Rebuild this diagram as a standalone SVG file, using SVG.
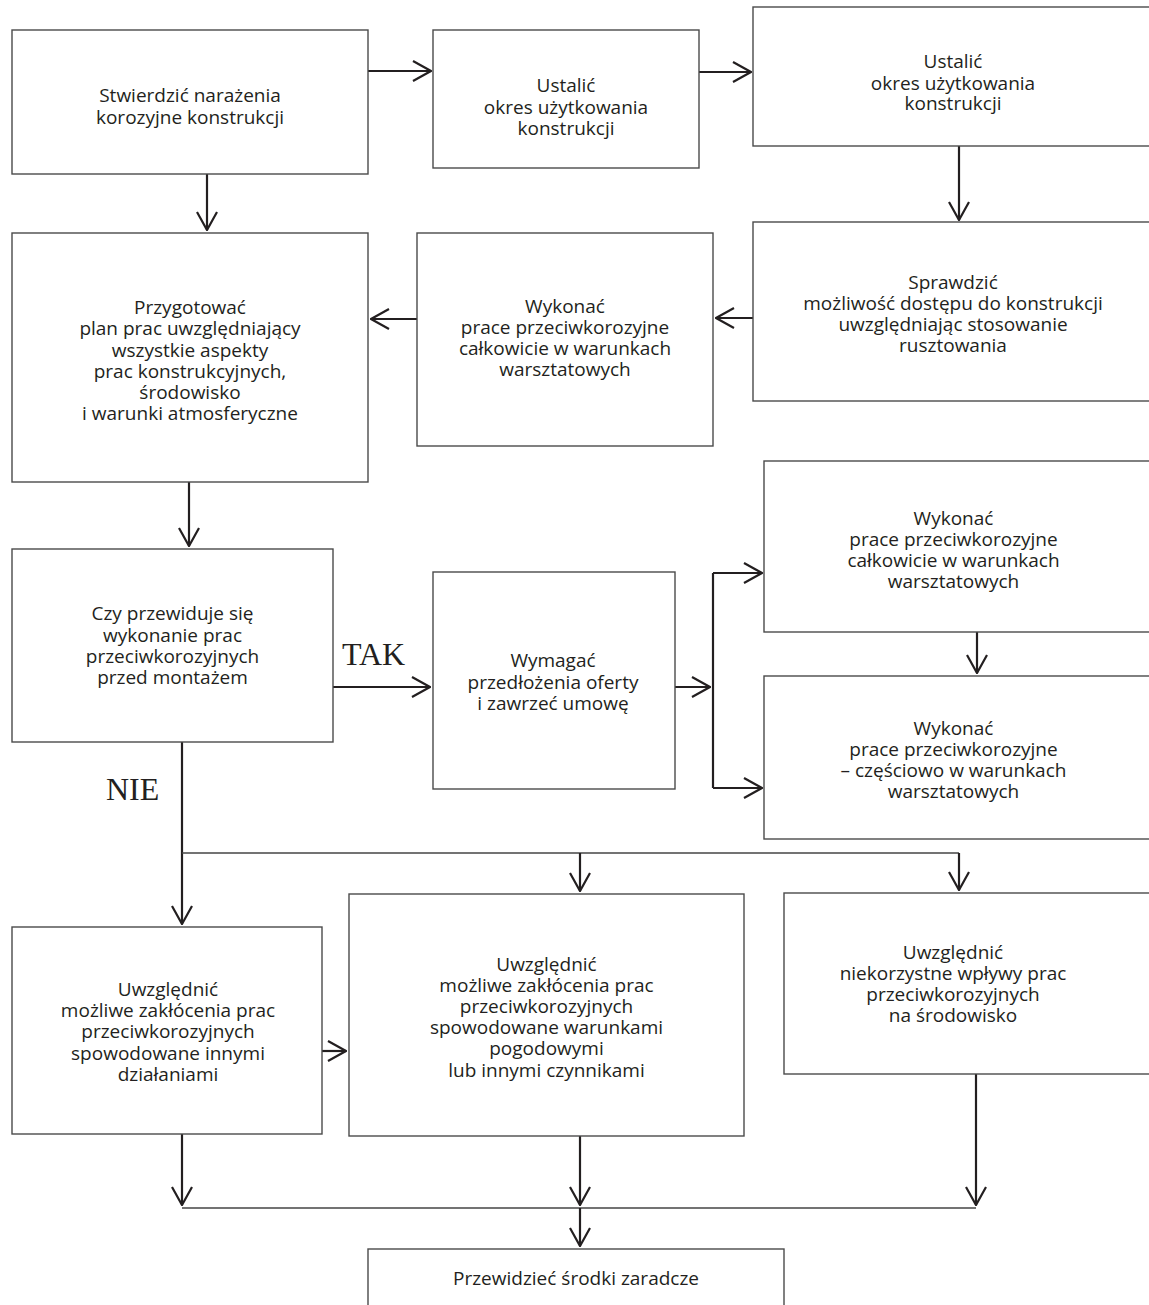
<svg xmlns="http://www.w3.org/2000/svg" width="1149" height="1305" viewBox="0 0 1149 1305">
<style>
.box{fill:#fff;stroke:#4a4a4a;stroke-width:1.4}
.t{font-family:"Open Sans","Noto Sans",sans-serif;font-size:19px;fill:#231f20;text-anchor:middle}
.lbl{font-family:"Liberation Serif","Times New Roman",serif;font-size:32px;fill:#231f20}
.c{fill:none;stroke:#231f20;stroke-width:2.2}
.c2{fill:none;stroke:#444;stroke-width:1.6}
</style>
<defs>
<marker id="ah" viewBox="0 0 20 22" refX="19" refY="11" markerWidth="20" markerHeight="22" markerUnits="userSpaceOnUse" orient="auto">
<path d="M1,1 L19,11 L1,21" fill="none" stroke="#231f20" stroke-width="2.2"/>
</marker>
</defs>
<rect width="1149" height="1305" fill="#fff"/>
<g id="connectors">
<path class="c" d="M368,71 H431" marker-end="url(#ah)"/>
<path class="c" d="M699,72 H751" marker-end="url(#ah)"/>
<path class="c" d="M959,146 V220" marker-end="url(#ah)"/>
<path class="c" d="M753,318 H716" marker-end="url(#ah)"/>
<path class="c" d="M417,319 H371" marker-end="url(#ah)"/>
<path class="c" d="M207,174 V230" marker-end="url(#ah)"/>
<path class="c" d="M189,482 V546" marker-end="url(#ah)"/>
<path class="c" d="M333,687 H430" marker-end="url(#ah)"/>
<path class="c" d="M675,687 H710" marker-end="url(#ah)"/>
<path class="c" d="M713,573 V788"/>
<path class="c" d="M713,573 H762" marker-end="url(#ah)"/>
<path class="c" d="M713,788 H762" marker-end="url(#ah)"/>
<path class="c" d="M977,632 V673" marker-end="url(#ah)"/>
<path class="c" d="M182,742 V924" marker-end="url(#ah)"/>
<path class="c2" d="M182,853 H959"/>
<path class="c" d="M580,853 V891" marker-end="url(#ah)"/>
<path class="c" d="M959,853 V890" marker-end="url(#ah)"/>
<path class="c" d="M322,1051 H346" marker-end="url(#ah)"/>
<path class="c" d="M182,1134 V1205" marker-end="url(#ah)"/>
<path class="c" d="M580,1136 V1205" marker-end="url(#ah)"/>
<path class="c" d="M976,1074 V1205" marker-end="url(#ah)"/>
<path class="c2" d="M182,1208 H976"/>
<path class="c" d="M580,1208 V1246" marker-end="url(#ah)"/>
</g>
<g id="labels">
<text class="lbl" x="342" y="665">TAK</text>
<text class="lbl" x="106" y="800">NIE</text>
</g>
<g id="n1"><rect class="box" x="12" y="30" width="356" height="144"/>
<text class="t" x="190" y="102">Stwierdzić narażenia</text>
<text class="t" x="190" y="124">korozyjne konstrukcji</text></g>
<g id="n2"><rect class="box" x="433" y="30" width="266" height="138"/>
<text class="t" x="566" y="92">Ustalić</text>
<text class="t" x="566" y="113.5">okres użytkowania</text>
<text class="t" x="566" y="135">konstrukcji</text></g>
<g id="n3"><rect class="box" x="753" y="7" width="402" height="139"/>
<text class="t" x="953" y="68">Ustalić</text>
<text class="t" x="953" y="89.5">okres użytkowania</text>
<text class="t" x="953" y="110">konstrukcji</text></g>
<g id="n4"><rect class="box" x="753" y="222" width="402" height="179"/>
<text class="t" x="953" y="288.5">Sprawdzić</text>
<text class="t" x="953" y="310">możliwość dostępu do konstrukcji</text>
<text class="t" x="953" y="331">uwzględniając stosowanie</text>
<text class="t" x="953" y="352">rusztowania</text></g>
<g id="n5"><rect class="box" x="417" y="233" width="296" height="213"/>
<text class="t" x="565" y="313">Wykonać</text>
<text class="t" x="565" y="334">prace przeciwkorozyjne</text>
<text class="t" x="565" y="355">całkowicie w warunkach</text>
<text class="t" x="565" y="376">warsztatowych</text></g>
<g id="n6"><rect class="box" x="12" y="233" width="356" height="249"/>
<text class="t" x="190" y="314">Przygotować</text>
<text class="t" x="190" y="335">plan prac uwzględniający</text>
<text class="t" x="190" y="356.5">wszystkie aspekty</text>
<text class="t" x="190" y="377.5">prac konstrukcyjnych,</text>
<text class="t" x="190" y="399">środowisko</text>
<text class="t" x="190" y="420">i warunki atmosferyczne</text></g>
<g id="n7"><rect class="box" x="12" y="549" width="321" height="193"/>
<text class="t" x="172.5" y="620">Czy przewiduje się</text>
<text class="t" x="172.5" y="641.5">wykonanie prac</text>
<text class="t" x="172.5" y="662.5">przeciwkorozyjnych</text>
<text class="t" x="172.5" y="683.5">przed montażem</text></g>
<g id="n8"><rect class="box" x="433" y="572" width="242" height="217"/>
<text class="t" x="553" y="667">Wymagać</text>
<text class="t" x="553" y="688.5">przedłożenia oferty</text>
<text class="t" x="553" y="710">i zawrzeć umowę</text></g>
<g id="n9"><rect class="box" x="764" y="461" width="391" height="171"/>
<text class="t" x="953.5" y="525">Wykonać</text>
<text class="t" x="953.5" y="546">prace przeciwkorozyjne</text>
<text class="t" x="953.5" y="567">całkowicie w warunkach</text>
<text class="t" x="953.5" y="588">warsztatowych</text></g>
<g id="n10"><rect class="box" x="764" y="676" width="391" height="163"/>
<text class="t" x="953.5" y="735">Wykonać</text>
<text class="t" x="953.5" y="756">prace przeciwkorozyjne</text>
<text class="t" x="953.5" y="777">– częściowo w warunkach</text>
<text class="t" x="953.5" y="798">warsztatowych</text></g>
<g id="n11"><rect class="box" x="12" y="927" width="310" height="207"/>
<text class="t" x="168" y="996">Uwzględnić</text>
<text class="t" x="168" y="1017">możliwe zakłócenia prac</text>
<text class="t" x="168" y="1038">przeciwkorozyjnych</text>
<text class="t" x="168" y="1059.5">spowodowane innymi</text>
<text class="t" x="168" y="1081">działaniami</text></g>
<g id="n12"><rect class="box" x="349" y="894" width="395" height="242"/>
<text class="t" x="546.5" y="971">Uwzględnić</text>
<text class="t" x="546.5" y="992">możliwe zakłócenia prac</text>
<text class="t" x="546.5" y="1013">przeciwkorozyjnych</text>
<text class="t" x="546.5" y="1034">spowodowane warunkami</text>
<text class="t" x="546.5" y="1055">pogodowymi</text>
<text class="t" x="546.5" y="1076.5">lub innymi czynnikami</text></g>
<g id="n13"><rect class="box" x="784" y="893" width="371" height="181"/>
<text class="t" x="953" y="958.5">Uwzględnić</text>
<text class="t" x="953" y="979.5">niekorzystne wpływy prac</text>
<text class="t" x="953" y="1000.5">przeciwkorozyjnych</text>
<text class="t" x="953" y="1021.5">na środowisko</text></g>
<g id="n14"><rect class="box" x="368" y="1249" width="416" height="70"/>
<text class="t" x="576" y="1285">Przewidzieć środki zaradcze</text></g>
</svg>
